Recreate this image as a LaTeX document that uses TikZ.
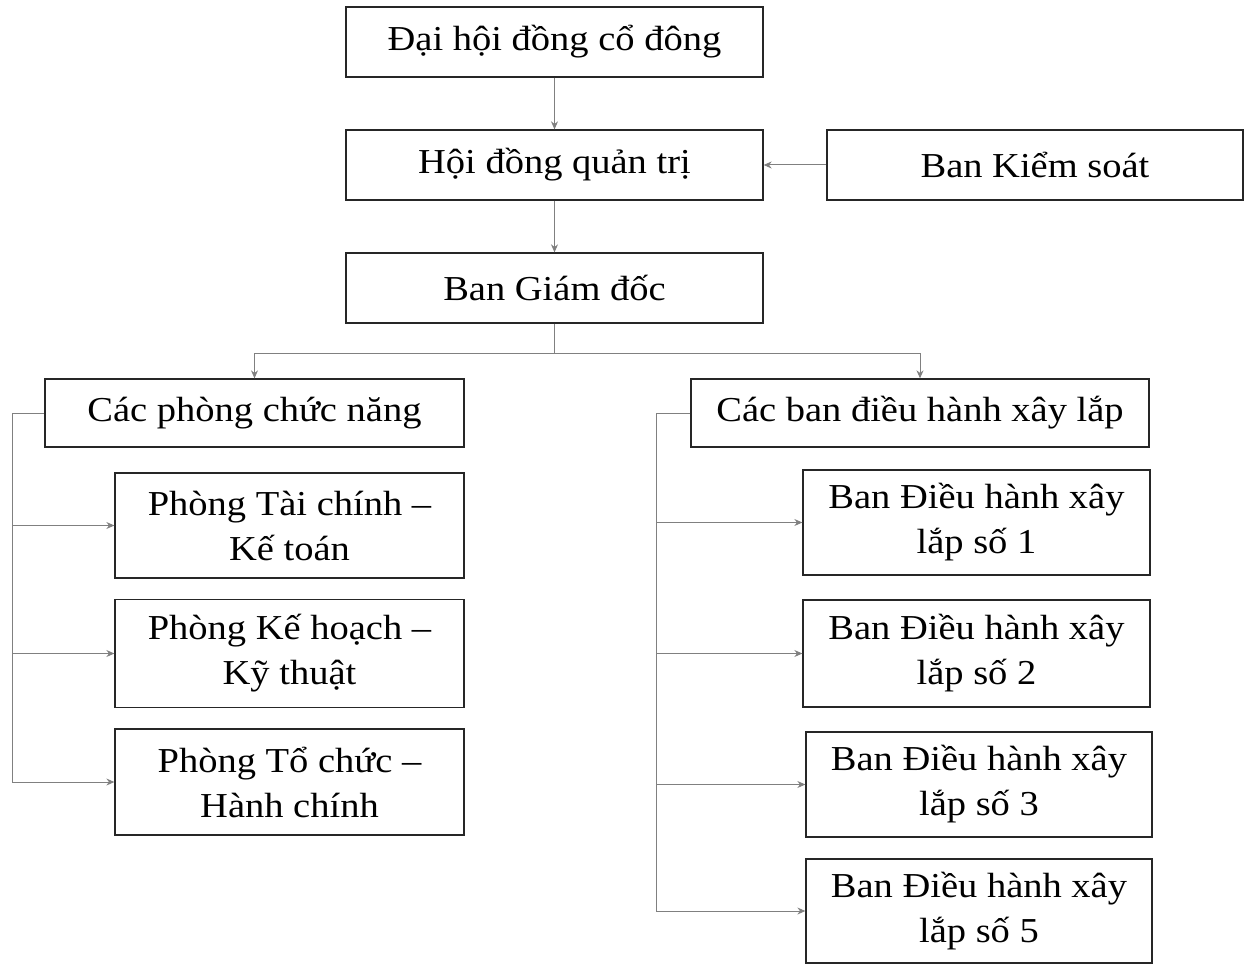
\documentclass[tikz,border=0pt]{standalone}
\usepackage{fontspec}
\setmainfont[FakeStretch=1.1]{Liberation Serif}
\usetikzlibrary{arrows.meta}
\begin{document}
\begin{tikzpicture}[x=1pt,y=-1pt,
  box/.style={draw=black!85,line width=1.3pt,rectangle,align=center,inner sep=0pt,
    font=\fontsize{35}{45}\selectfont},
  conn/.style={draw=black!50,line width=1pt,-{Stealth[length=8pt,width=7pt]}},
  bus/.style={draw=black!50,line width=1pt}]
\useasboundingbox (0,0) rectangle (1244,965);
\node[box,minimum width=417pt,minimum height=70pt] (dh) at (554.5,42) {Đại hội đồng cổ đông};
\node[box,minimum width=417pt,minimum height=70pt] (hd) at (554.5,165) {Hội đồng quản trị};
\node[box,minimum width=416pt,minimum height=70pt] (bks) at (1035,165) {Ban Kiểm soát};
\node[box,minimum width=417pt,minimum height=70pt] (bgd) at (554.5,288) {Ban Giám đốc};
\node[box,minimum width=419pt,minimum height=68pt] (cp) at (254.5,413) {Các phòng chức năng};
\node[box,minimum width=458pt,minimum height=68pt] (cb) at (920,413) {Các ban điều hành xây lắp};
\node[box,minimum width=349pt,minimum height=105pt] (p1) at (289.5,525.5) {Phòng Tài chính –\\Kế toán};
\node[box,minimum width=349pt,minimum height=108pt] (p2) at (289.5,653.5) {Phòng Kế hoạch –\\Kỹ thuật};
\node[box,minimum width=349pt,minimum height=106pt] (p3) at (289.5,782) {Phòng Tổ chức –\\Hành chính};
\node[box,minimum width=347pt,minimum height=105pt] (b1) at (976.5,522.5) {Ban Điều hành xây\\lắp số 1};
\node[box,minimum width=347pt,minimum height=107pt] (b2) at (976.5,653.5) {Ban Điều hành xây\\lắp số 2};
\node[box,minimum width=346pt,minimum height=105pt] (b3) at (979,784.5) {Ban Điều hành xây\\lắp số 3};
\node[box,minimum width=346pt,minimum height=104pt] (b5) at (979,911) {Ban Điều hành xây\\lắp số 5};
\coordinate (split) at (554.5,353);
\coordinate (lbus) at (12,413);
\coordinate (rbus) at (656,413);
\draw[conn] (dh) -- (hd);
\draw[conn] (bks) -- (hd);
\draw[conn] (hd) -- (bgd);
\draw[bus] (bgd.south) -- (split);
\draw[conn] (split) -| (cp.north);
\draw[conn] (split) -| (cb.north);
\draw[bus] (cp.west) -- (lbus);
\draw[conn] (lbus) |- (p1.west);
\draw[conn] (lbus) |- (p2.west);
\draw[conn] (lbus) |- (p3.west);
\draw[bus] (cb.west) -- (rbus);
\draw[conn] (rbus) |- (b1.west);
\draw[conn] (rbus) |- (b2.west);
\draw[conn] (rbus) |- (b3.west);
\draw[conn] (rbus) |- (b5.west);
\end{tikzpicture}
\end{document}
